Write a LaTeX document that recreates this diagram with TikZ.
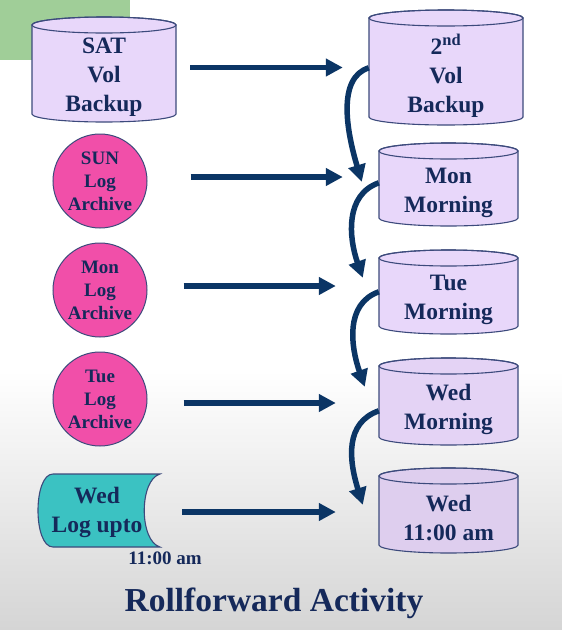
\documentclass[tikz,border=0pt]{standalone}
\usepackage{fontspec}
\setmainfont{Liberation Serif}
\usetikzlibrary{arrows.meta,calc}
\definecolor{navy}{HTML}{15295A}
\definecolor{arrc}{HTML}{0B3565}
\definecolor{lav}{HTML}{E8D7FA}
\definecolor{edgec}{HTML}{3C4A7C}
\definecolor{pinkc}{HTML}{F14FA9}
\definecolor{tealc}{HTML}{3BC2C2}
\definecolor{greenc}{HTML}{A0CE98}
\tikzset{
  arr/.style={draw=arrc, line width=5.5pt, -{Triangle[length=17pt,width=17pt]}},
  cylbox/.style={draw=none, inner sep=0pt},
  cyltxt/.style={text=navy, font=\fontsize{23.5}{29}\selectfont\bfseries, align=center, inner sep=0pt},
  logc/.style={circle, draw=edgec, line width=1pt, fill=pinkc, minimum size=94pt, inner sep=0pt,
     text=navy, font=\fontsize{19}{23}\selectfont\bfseries, align=center},
  cyledge/.style={draw=edgec, line width=1.1pt},
}
\newcommand\drawcyl[7]{%
  \pgfmathsetmacro\cylcx{(#2+#3)/2}%
  \pgfmathsetmacro\cylrx{(#3-#2)/2}%
  \pgfmathsetmacro\cylyt{#4+8}%
  \pgfmathsetmacro\cylyb{#5-8}%
  \pgfmathsetmacro\cylty{(#4+16+#5)/2}%
  \pgfmathsetmacro\cylw{#3-#2}%
  \pgfmathsetmacro\cylh{#5-#4}%
  \pgfmathsetmacro\cylcy{(#4+#5)/2}%
  \path[fill=#7, cyledge] (#2,\cylyt) -- (#2,\cylyb)
     arc[start angle=180,end angle=360,x radius=\cylrx pt,y radius=8pt] -- (#3,\cylyt)
     arc[start angle=0,end angle=180,x radius=\cylrx pt,y radius=8pt] -- cycle;
  \draw[cyledge] (\cylcx,\cylyt) ellipse [x radius=\cylrx pt, y radius=8pt];
  \node[cylbox, minimum width=\cylw pt, minimum height=\cylh pt] (#1) at (\cylcx,\cylcy) {};
  \node[cyltxt] (#1t) at (\cylcx,\cylty) {#6};
}
\begin{document}
\begin{tikzpicture}[x=1pt,y=-1pt]
\useasboundingbox (0,0) rectangle (562,630);
\fill[white] (0,0) rectangle (562,630);
\shade[top color=white, bottom color=gray!33] (0,370) rectangle (562,630);
\fill[greenc] (0,0) rectangle (130,60);

% left column
\drawcyl{sat}{32}{176}{17}{122}{SAT\\Vol\\Backup}{lav}
\node[logc] (sun) at (100,181) {SUN\\Log\\Archive};
\node[logc] (monl) at (100,290) {Mon\\Log\\Archive};
\node[logc] (tuel) at (100,399) {Tue\\Log\\Archive};
\path[fill=tealc, draw=edgec, line width=1.1pt] (160,474) -- (53,474)
   .. controls (33,474) and (33,547) .. (53,547) -- (160,547)
   .. controls (139,541) and (139,480) .. (160,474) -- cycle;
\node[cylbox, minimum width=122pt, minimum height=73pt] (wedlog) at (99,510.5) {};
\node[cyltxt] (wedlogt) at (97,512) {Wed\\Log upto};
\node[text=navy, font=\fontsize{19}{23}\selectfont\bfseries, inner sep=0pt] (wedtime) at (165,558) {11:00 am};

% right column
\drawcyl{bk2}{369}{523}{10}{125}{2\textsuperscript{nd}\\Vol\\Backup}{lav}
\drawcyl{mon}{379}{518}{143}{226}{Mon\\Morning}{lav}
\drawcyl{tue}{379}{518}{250}{334}{Tue\\Morning}{lav}
\drawcyl{wedm}{379}{518}{358}{445}{Wed\\Morning}{lav!96!gray}
\drawcyl{wed}{379}{518}{468}{553}{Wed\\11:00 am}{lav!90!gray}

% horizontal arrows
\draw[arr, shorten <=14pt, shorten >=26pt] ([yshift=2pt]sat.east) -- ([yshift=2pt]sat.east -| bk2.west);
\draw[arr, shorten <=43pt, shorten >=36pt] ([yshift=4pt]sun.east) -- ([yshift=4pt]sun.east -| mon.west);
\draw[arr, shorten <=36pt, shorten >=43pt] ([yshift=4pt]monl.east) -- ([yshift=4pt]monl.east -| tue.west);
\draw[arr, shorten <=36pt, shorten >=43pt] ([yshift=-4pt]tuel.east) -- ([yshift=-4pt]tuel.east -| wedm.west);
\draw[arr, shorten <=22pt, shorten >=43pt] ([yshift=-1.5pt]wedlog.east) -- ([yshift=-1.5pt]wedlog.east -| wed.west);

% curved arrows
\draw[arr] ($(bk2.north west)+(0,58)$) .. controls +(-32,10) and +(-15,-50) .. ($(mon.north west)+(-17,39)$);
\draw[arr] ($(mon.north west)+(0,40)$) .. controls +(-34,12) and +(-14,-40) .. ($(tue.north west)+(-16,28)$);
\draw[arr] ($(tue.north west)+(0,42)$) .. controls +(-34,12) and +(-14,-40) .. ($(wedm.north west)+(-14,29)$);
\draw[arr] ($(wedm.north west)+(0,53)$) .. controls +(-34,12) and +(-14,-45) .. ($(wed.north west)+(-16,37)$);

\node[text=navy, font=\fontsize{33.5}{40}\selectfont\bfseries, inner sep=0pt] (title) at (274,603) {Rollforward Activity};
\end{tikzpicture}
\end{document}
